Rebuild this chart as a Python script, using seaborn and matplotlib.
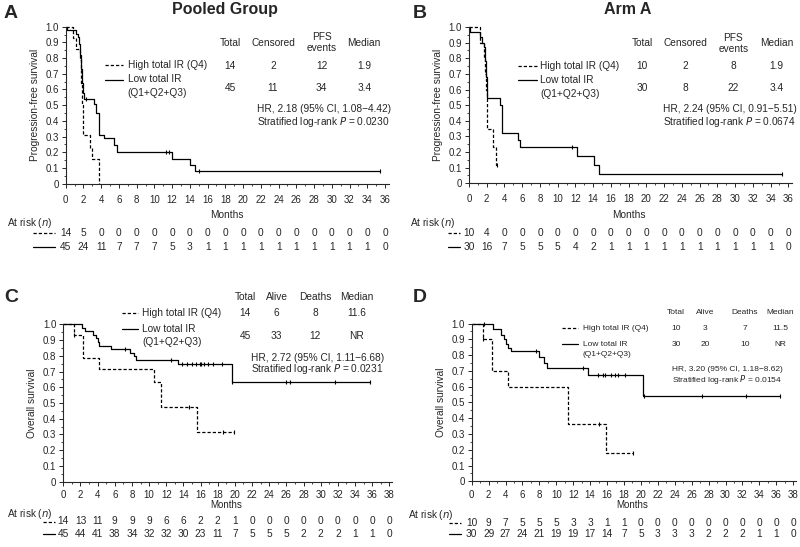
import numpy as np
import pandas as pd
import matplotlib
matplotlib.use("Agg")
import matplotlib.pyplot as plt
import seaborn as sns
from matplotlib.lines import Line2D
from matplotlib.transforms import blended_transform_factory

# ---- A: progression-free survival, pooled group
a_high_t = [0, 0.8, 1.2, 1.6, 1.75, 1.85, 1.95, 2.75, 3.0, 3.8]
a_high_s = [1.0, 0.929, 0.857, 0.786, 0.64, 0.5, 0.31, 0.23, 0.155, 0.0]
a_high_end = 3.8
a_high_cens = []
a_low_t = [0, 0.1, 1.2, 1.4, 1.55, 1.65, 1.75, 1.85, 1.95, 2.05, 3.2, 3.45, 3.8, 4.35, 5.4, 5.75, 12.0, 14.0, 14.6]
a_low_s = [1.0, 0.978, 0.956, 0.933, 0.89, 0.82, 0.73, 0.64, 0.58, 0.54, 0.51, 0.45, 0.31, 0.29, 0.245, 0.20, 0.16, 0.12, 0.08]
a_low_end = 35.4
a_low_cens = [2.3, 11.3, 11.6, 15.0, 35.4]

# ---- B: progression-free survival, arm A
b_high_t = [0, 1.25, 1.7, 1.8, 1.9, 2.07, 2.75, 3.0]
b_high_s = [1.0, 0.9, 0.8, 0.7, 0.6, 0.345, 0.23, 0.115]
b_high_end = 3.2
b_high_cens = [3.2]
b_low_t = [0, 0.15, 1.25, 1.5, 1.65, 1.8, 1.9, 2.0, 2.07, 3.5, 3.76, 5.5, 5.75, 12.2, 14.06, 14.6]
b_low_s = [1.0, 0.967, 0.933, 0.9, 0.87, 0.78, 0.68, 0.6, 0.547, 0.50, 0.325, 0.28, 0.235, 0.175, 0.12, 0.06]
b_low_end = 35.3
b_low_cens = [11.6, 35.3]

# ---- C: overall survival, pooled group
c_high_t = [0, 1.3, 2.3, 4.2, 10.6, 11.35, 15.6]
c_high_s = [1.0, 0.929, 0.786, 0.714, 0.635, 0.476, 0.317]
c_high_end = 19.9
c_high_cens = [1.3, 14.6, 18.6, 19.9]
c_low_t = [0, 2.14, 2.53, 3.5, 3.8, 4.0, 4.2, 5.6, 7.8, 8.2, 8.5, 13.4, 19.7]
c_low_s = [1.0, 0.978, 0.956, 0.933, 0.911, 0.889, 0.864, 0.846, 0.82, 0.797, 0.773, 0.746, 0.635]
c_low_end = 35.7
c_low_cens = [7.2, 12.6, 13.8, 14.4, 15.0, 15.5, 15.9, 16.1, 16.4, 16.9, 17.5, 18.5,
              19.7, 26.0, 26.4, 31.7, 35.7]

# ---- D: overall survival, arm A
d_high_t = [0, 1.34, 2.4, 4.3, 11.4, 15.9]
d_high_s = [1.0, 0.9, 0.7, 0.6, 0.36, 0.18]
d_high_end = 19.1
d_high_cens = [1.34, 15.0, 19.1]
d_low_t = [0, 2.52, 3.43, 3.8, 4.1, 4.3, 4.6, 8.0, 8.6, 8.9, 13.75, 20.25]
d_low_s = [1.0, 0.963, 0.93, 0.9, 0.867, 0.845, 0.827, 0.79, 0.75, 0.716, 0.673, 0.54]
d_low_end = 36.4
d_low_cens = [1.4, 7.6, 13.2, 14.9, 15.5, 15.8, 16.5, 16.9, 17.3, 18.1, 20.4, 27.2, 32.4, 36.4]

# ---- numbers at risk
pfs_ticks = list(range(0, 37, 2))
os_ticks = list(range(0, 39, 2))
a_risk_high = [14, 5, 0, 0, 0, 0, 0, 0, 0, 0, 0, 0, 0, 0, 0, 0, 0, 0, 0]
a_risk_low = [45, 24, 11, 7, 7, 7, 5, 3, 1, 1, 1, 1, 1, 1, 1, 1, 1, 1, 0]
b_risk_high = [10, 4, 0, 0, 0, 0, 0, 0, 0, 0, 0, 0, 0, 0, 0, 0, 0, 0, 0]
b_risk_low = [30, 16, 7, 5, 5, 5, 4, 2, 1, 1, 1, 1, 1, 1, 1, 1, 1, 1, 0]
c_risk_high = [14, 13, 11, 9, 9, 9, 6, 6, 2, 2, 1, 0, 0, 0, 0, 0, 0, 0, 0, 0]
c_risk_low = [45, 44, 41, 38, 34, 32, 32, 30, 23, 11, 7, 5, 5, 5, 2, 2, 2, 1, 1, 0]
d_risk_high = [10, 9, 7, 5, 5, 5, 3, 3, 1, 1, 0, 0, 0, 0, 0, 0, 0, 0, 0, 0]
d_risk_low = [30, 29, 27, 24, 21, 19, 19, 17, 14, 7, 5, 3, 3, 3, 2, 2, 2, 1, 1, 0]

# ---- summary tables
a_table = [["14", "2", "12", "1.9"], ["45", "11", "34", "3.4"]]
b_table = [["10", "2", "8", "1.9"], ["30", "8", "22", "3.4"]]
c_table = [["14", "6", "8", "11.6"], ["45", "33", "12", "NR"]]
d_table = [["10", "3", "7", "11.5"], ["30", "20", "10", "NR"]]

sns.set_style("ticks")
plt.rcParams["font.family"] = ["Liberation Sans", "DejaVu Sans"]

W, H = 800, 547
fig = plt.figure(figsize=(8, 5.47), dpi=100)


def fx(x):
    return x / W


def fy(y):
    return 1 - y / H


DASH = (0, (2.6, 1.6))


def km_frame(t, s, end):
    return pd.DataFrame({"month": list(t) + [end], "surv": list(s) + [s[-1]]})


def surv_at(t, s, x):
    i = np.searchsorted(t, x, side="right") - 1
    return s[i]


def make_axes(x0, ppm, xmax, y_zero, y_one, ticks, ylabel, xpad=5):
    ax = fig.add_axes([fx(x0), fy(y_zero), xmax * ppm / W, (y_zero - y_one) / H])
    ax.set_xlim(0, xmax)
    ax.set_ylim(0, 1.0)
    ax.set_xticks(ticks)
    ax.set_xticks(np.arange(0, xmax, 1), minor=True)
    ax.set_yticks(np.round(np.arange(0, 1.01, 0.1), 1))
    ax.set_yticklabels(["0"] + [f"{v:.1f}" for v in np.arange(0.1, 1.01, 0.1)])
    ax.set_yticks(np.arange(0.05, 1.0, 0.1), minor=True)
    ax.tick_params(which="major", length=3, width=0.7, labelsize=7, pad=2)
    ax.tick_params(axis="x", which="major", pad=xpad)
    ax.tick_params(which="minor", length=1.5, width=0.6)
    for sp in ["top", "right"]:
        ax.spines[sp].set_visible(False)
    for sp in ["left", "bottom"]:
        ax.spines[sp].set_linewidth(0.8)
    ax.set_xlabel("")
    ax.set_ylabel(ylabel, fontsize=7.3, labelpad=4)
    return ax


def draw_curve(ax, t, s, end, cens, ls):
    df = km_frame(t, s, end)
    sns.lineplot(data=df, x="month", y="surv", drawstyle="steps-post", color="black",
                 linewidth=0.9, linestyle=ls, estimator=None, sort=False, ax=ax, clip_on=False)
    if cens:
        cy = [surv_at(t, s, c) for c in cens]
        ax.plot(cens, cy, ls="none", marker="|", ms=3.5, mew=0.8, color="black", clip_on=False)
    ax.set_xlabel("")


def sample(x1, x2, y, ls):
    fig.add_artist(Line2D([fx(x1), fx(x2)], [fy(y), fy(y)], color="black", lw=0.9, linestyle=ls))


def at_risk(ax, ticks, high, low, label_x, y_lab, y_high, y_low, sx1, sx2):
    tr = blended_transform_factory(ax.transData, fig.transFigure)
    fig.text(fx(label_x), fy(y_lab), "At risk ($n$)", fontsize=7.3, va="center", ha="left")
    for xv, n in zip(ticks, high):
        ax.text(xv, fy(y_high), str(n), transform=tr, fontsize=7.3, ha="center", va="center")
    for xv, n in zip(ticks, low):
        ax.text(xv, fy(y_low), str(n), transform=tr, fontsize=7.3, ha="center", va="center")
    sample(sx1, sx2, y_high, DASH)
    sample(sx1, sx2, y_low, "-")


def summary(cols, col_x, head_y, rows, row_y, leg_x, leg_s, leg_y, hr, hr_x, hr_y, fs):
    for c, x in zip(cols, col_x):
        fig.text(fx(x), fy(head_y), c, fontsize=fs, ha="center", va="center", linespacing=1.1)
    for r, y in zip(rows, row_y):
        for v, x in zip(r, col_x):
            fig.text(fx(x), fy(y), v, fontsize=fs, ha="center", va="center")
    sample(leg_s[0], leg_s[1], leg_y[0], DASH)
    sample(leg_s[0], leg_s[1], leg_y[1], "-")
    fig.text(fx(leg_x), fy(leg_y[0]), "High total IR (Q4)", fontsize=fs, va="center")
    fig.text(fx(leg_x), fy(leg_y[1]), "Low total IR", fontsize=fs, va="center")
    fig.text(fx(leg_x), fy(leg_y[2]), "(Q1+Q2+Q3)", fontsize=fs, va="center")
    fig.text(fx(hr_x), fy(hr_y[0]), hr, fontsize=fs, va="center")
    fig.text(fx(hr_x), fy(hr_y[1]), hr_y[2], fontsize=fs, va="center")


# ---------- panel A
ax_a = make_axes(65.7, 8.87, 36.4, 183.7, 26.7, pfs_ticks, "Progression-free survival")
draw_curve(ax_a, a_high_t, a_high_s, a_high_end, a_high_cens, DASH)
draw_curve(ax_a, a_low_t, a_low_s, a_low_end, a_low_cens, "-")
fig.text(fx(227), fy(215), "Months", fontsize=7.3, ha="center", va="center")
at_risk(ax_a, pfs_ticks, a_risk_high, a_risk_low, 7, 222.7, 232.7, 246.7, 33, 55)
summary(["Total", "Censored", "PFS\nevents", "Median"], [230, 273, 321.7, 364.3], 42.7,
        a_table, [66, 87.7], 127.7, (105, 123), (65, 79.5, 93),
        "HR, 2.18 (95% CI, 1.08\u22124.42)", 256.7,
        (109.3, 121.7, "Stratified log-rank $P$ = 0.0230"), 7.3)
fig.text(fx(225), fy(9.5), "Pooled Group", fontsize=11.5, fontweight="bold", ha="center", va="center")
fig.text(fx(4), fy(13.5), "A", fontsize=14, fontweight="bold", va="center")

# ---------- panel B
ax_b = make_axes(469, 8.87, 36.4, 183.3, 27, pfs_ticks, "Progression-free survival")
draw_curve(ax_b, b_high_t, b_high_s, b_high_end, b_high_cens, DASH)
draw_curve(ax_b, b_low_t, b_low_s, b_low_end, b_low_cens, "-")
fig.text(fx(628.5), fy(215), "Months", fontsize=7.3, ha="center", va="center")
at_risk(ax_b, pfs_ticks, b_risk_high, b_risk_low, 410, 222.7, 232.7, 246.7, 448, 460)
summary(["Total", "Censored", "PFS\nevents", "Median"], [642.3, 685.7, 733.3, 776.7], 43.3,
        b_table, [66, 88], 540, (518, 537), (66, 80, 94),
        "HR, 2.24 (95% CI, 0.91\u22125.51)", 663.3,
        (109.3, 122, "Stratified log-rank $P$ = 0.0674"), 7.3)
fig.text(fx(628), fy(9.5), "Arm A", fontsize=11.5, fontweight="bold", ha="center", va="center")
fig.text(fx(413), fy(13.5), "B", fontsize=14, fontweight="bold", va="center")

# ---------- panel C
ax_c = make_axes(63.3, 8.58, 38.3, 481.7, 324.3, os_ticks, "Overall survival", xpad=3)
draw_curve(ax_c, c_high_t, c_high_s, c_high_end, c_high_cens, DASH)
draw_curve(ax_c, c_low_t, c_low_s, c_low_end, c_low_cens, "-")
fig.text(fx(226), fy(505.5), "Months", fontsize=7, ha="center", va="center")
at_risk(ax_c, os_ticks, c_risk_high, c_risk_low, 7, 514, 521.5, 534, 43, 55)
summary(["Total", "Alive", "Deaths", "Median"], [245, 276.7, 315, 356.7], 296.7,
        c_table, [313.3, 336], 142.3, (121.7, 138.3), (313.3, 329, 341.7),
        "HR, 2.72 (95% CI, 1.11\u22126.68)", 250.7,
        (357.7, 369.3, "Stratified log-rank $P$ = 0.0231"), 7.3)
fig.text(fx(4), fy(297), "C", fontsize=14, fontweight="bold", va="center")

# ---------- panel D
ax_d = make_axes(471.7, 8.46, 38.3, 481.3, 323.5, os_ticks, "Overall survival", xpad=3)
draw_curve(ax_d, d_high_t, d_high_s, d_high_end, d_high_cens, DASH)
draw_curve(ax_d, d_low_t, d_low_s, d_low_end, d_low_cens, "-")
fig.text(fx(632.5), fy(505.5), "Months", fontsize=7, ha="center", va="center")
at_risk(ax_d, os_ticks, d_risk_high, d_risk_low, 408, 515, 522.7, 534, 449, 461)
summary(["Total", "Alive", "Deaths", "Median"], [676, 705, 745, 780], 312.7,
        d_table, [328.3, 345], 582.7, (561.7, 578.3), (328.3, 344.3, 355),
        "HR, 3.20 (95% CI, 1.18\u22128.62)", 671.7,
        (369.3, 380, "Stratified log-rank $P$ = 0.0154"), 6.0)
fig.text(fx(413), fy(297), "D", fontsize=14, fontweight="bold", va="center")

fig.savefig("out.png", dpi=100)
